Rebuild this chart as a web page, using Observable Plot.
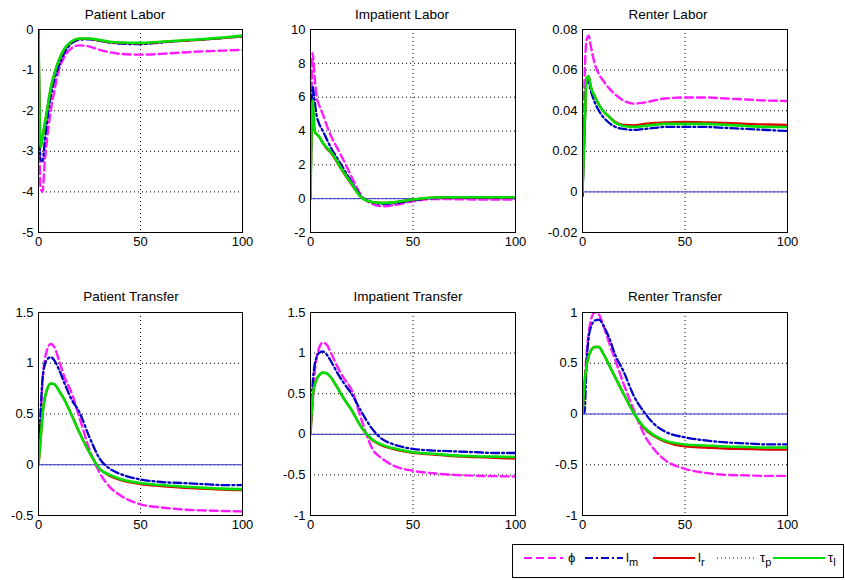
<!DOCTYPE html>
<html><head><meta charset="utf-8">
<script src="https://cdn.jsdelivr.net/npm/d3@7"></script>
<script src="https://cdn.jsdelivr.net/npm/@observablehq/plot@0.6"></script>
<style>
body{margin:0;background:#fff;}
#fig{position:relative;width:845px;height:580px;font-family:"Liberation Sans",Arial,sans-serif;overflow:hidden;}
.panel{position:absolute;}
.ttl{position:absolute;font-size:13.5px;font-weight:400;white-space:nowrap;transform:translate(-50%,-50%);color:#000;}
#legend{position:absolute;}
</style></head><body><div id="fig"></div>
<script>
// ---------- data ----------
const periods = [0,1,2,3,4,6,8,10,13,16,20,25,30,35,40,50,60,70,80,90,100];
const xTicks = [0,50,100];
const seriesKeys = ["phi","lm","lr","taup","taul"];
const panelTitles = ["Patient Labor","Impatient Labor","Renter Labor","Patient Transfer","Impatient Transfer","Renter Transfer"];

// Patient Labor
const patientLaborTicks = [-5,-4,-3,-2,-1,0];
const patientLaborPhi  = [-0.7,-3.9,-4.0,-3.3,-2.8,-2.0,-1.45,-1.0,-0.65,-0.47,-0.39,-0.42,-0.5,-0.56,-0.6,-0.62,-0.6,-0.57,-0.54,-0.52,-0.5];
const patientLaborLm   = [0,-3.2,-3.25,-2.8,-2.35,-1.65,-1.2,-0.9,-0.55,-0.35,-0.25,-0.24,-0.28,-0.32,-0.35,-0.36,-0.32,-0.28,-0.25,-0.21,-0.17];
const patientLaborLr   = [0,-2.9,-2.65,-2.35,-2.05,-1.45,-1.05,-0.76,-0.46,-0.31,-0.23,-0.23,-0.27,-0.31,-0.33,-0.34,-0.31,-0.28,-0.25,-0.21,-0.16];
const patientLaborTaup = [0,-2.9,-2.65,-2.35,-2.05,-1.45,-1.05,-0.75,-0.45,-0.3,-0.22,-0.22,-0.26,-0.3,-0.32,-0.33,-0.3,-0.27,-0.24,-0.2,-0.15];
const patientLaborTaul = [0,-2.9,-2.65,-2.35,-2.05,-1.45,-1.05,-0.75,-0.45,-0.3,-0.22,-0.22,-0.26,-0.3,-0.32,-0.33,-0.3,-0.27,-0.24,-0.2,-0.15];

// Impatient Labor
const impatientLaborTicks = [-2,0,2,4,6,8,10];
const impatientLaborPhi  = [0,8.6,7.2,6.0,5.6,5.0,4.3,3.7,3.0,2.3,1.3,0.15,-0.3,-0.45,-0.4,-0.15,-0.03,-0.03,-0.05,-0.05,-0.05];
const impatientLaborLm   = [0,6.6,5.8,4.9,4.5,4.0,3.5,3.0,2.4,1.8,1.0,0.1,-0.2,-0.3,-0.28,-0.1,0.03,0.05,0.05,0.05,0.04];
const impatientLaborLr   = [0,5.7,4.0,3.8,3.7,3.3,2.95,2.7,2.15,1.55,0.85,0.05,-0.2,-0.25,-0.22,-0.05,0.06,0.08,0.08,0.08,0.08];
const impatientLaborTaup = [0,5.8,4.0,3.8,3.7,3.3,3.0,2.75,2.2,1.6,0.9,0.05,-0.2,-0.25,-0.22,-0.05,0.07,0.08,0.08,0.08,0.08];
const impatientLaborTaul = [0,5.8,4.0,3.8,3.7,3.3,3.0,2.75,2.2,1.6,0.9,0.05,-0.2,-0.25,-0.22,-0.05,0.07,0.08,0.08,0.08,0.08];

// Renter Labor
const renterLaborTicks = [-0.02,0,0.02,0.04,0.06,0.08];
const renterLaborPhi  = [-0.002,0.055,0.075,0.077,0.072,0.063,0.058,0.055,0.051,0.048,0.045,0.0435,0.044,0.045,0.046,0.0465,0.0465,0.046,0.0455,0.045,0.0448];
const renterLaborLm   = [-0.002,0.03,0.055,0.054,0.05,0.044,0.04,0.037,0.034,0.032,0.031,0.0305,0.031,0.0315,0.032,0.032,0.032,0.0315,0.031,0.0305,0.030];
const renterLaborLr   = [0,0.03,0.056,0.057,0.052,0.047,0.043,0.040,0.037,0.0345,0.033,0.0328,0.0335,0.034,0.0342,0.0345,0.0342,0.034,0.0335,0.0332,0.033];
const renterLaborTaup = [0,0.03,0.056,0.057,0.052,0.047,0.043,0.040,0.037,0.034,0.0325,0.032,0.0325,0.033,0.0335,0.0335,0.0335,0.033,0.0325,0.032,0.032];
const renterLaborTaul = [0,0.03,0.056,0.057,0.052,0.047,0.043,0.040,0.037,0.034,0.0325,0.032,0.0325,0.033,0.0335,0.0335,0.0335,0.033,0.0325,0.032,0.032];

// Patient Transfer
const patientTransferTicks = [-0.5,0,0.5,1,1.5];
const patientTransferPhi  = [0,0.45,0.83,1.02,1.12,1.19,1.15,1.03,0.85,0.72,0.47,0.15,-0.08,-0.22,-0.3,-0.39,-0.42,-0.44,-0.45,-0.455,-0.46];
const patientTransferLm   = [0,0.5,0.85,0.98,1.03,1.06,1.02,0.94,0.79,0.65,0.52,0.27,0.06,-0.04,-0.09,-0.145,-0.17,-0.18,-0.19,-0.2,-0.2];
const patientTransferLr   = [0,0.24,0.5,0.65,0.73,0.8,0.79,0.73,0.63,0.5,0.32,0.12,-0.04,-0.11,-0.15,-0.19,-0.21,-0.225,-0.235,-0.245,-0.25];
const patientTransferTaup = [0,0.24,0.5,0.65,0.73,0.8,0.79,0.73,0.63,0.5,0.32,0.12,-0.04,-0.1,-0.14,-0.18,-0.2,-0.215,-0.225,-0.235,-0.24];
const patientTransferTaul = [0,0.24,0.5,0.65,0.73,0.8,0.79,0.73,0.63,0.5,0.32,0.12,-0.04,-0.1,-0.14,-0.18,-0.2,-0.215,-0.225,-0.235,-0.24];

// Impatient Transfer
const impatientTransferTicks = [-1,-0.5,0,0.5,1,1.5];
const impatientTransferPhi  = [0,0.35,0.75,0.95,1.05,1.13,1.1,1.0,0.84,0.7,0.55,0.17,-0.17,-0.3,-0.38,-0.45,-0.48,-0.5,-0.51,-0.515,-0.52];
const impatientTransferLm   = [0,0.6,0.85,0.95,1.0,1.02,0.98,0.9,0.76,0.64,0.5,0.27,0.07,-0.06,-0.12,-0.18,-0.2,-0.21,-0.22,-0.23,-0.23];
const impatientTransferLr   = [0,0.45,0.6,0.68,0.72,0.76,0.75,0.7,0.58,0.45,0.3,0.08,-0.07,-0.14,-0.18,-0.23,-0.25,-0.27,-0.28,-0.29,-0.3];
const impatientTransferTaup = [0,0.45,0.6,0.68,0.72,0.76,0.75,0.7,0.58,0.45,0.3,0.08,-0.06,-0.13,-0.17,-0.22,-0.24,-0.26,-0.27,-0.275,-0.28];
const impatientTransferTaul = [0,0.45,0.6,0.68,0.72,0.76,0.75,0.7,0.58,0.45,0.3,0.08,-0.06,-0.13,-0.17,-0.22,-0.24,-0.26,-0.27,-0.275,-0.28];

// Renter Transfer
const renterTransferTicks = [-1,-0.5,0,0.5,1];
const renterTransferPhi  = [0,0.3,0.6,0.8,0.92,1.0,0.98,0.88,0.7,0.53,0.3,0.04,-0.2,-0.35,-0.45,-0.54,-0.58,-0.6,-0.605,-0.61,-0.61];
const renterTransferLm   = [0,0.02,0.5,0.75,0.85,0.92,0.93,0.88,0.75,0.58,0.42,0.18,0.02,-0.1,-0.17,-0.23,-0.26,-0.28,-0.29,-0.3,-0.3];
const renterTransferLr   = [0,0.3,0.48,0.57,0.62,0.66,0.66,0.6,0.48,0.36,0.2,0.01,-0.14,-0.22,-0.27,-0.32,-0.33,-0.34,-0.345,-0.35,-0.35];
const renterTransferTaup = [0,0.3,0.48,0.57,0.62,0.66,0.66,0.6,0.48,0.36,0.2,0.01,-0.13,-0.21,-0.26,-0.3,-0.31,-0.32,-0.325,-0.33,-0.33];
const renterTransferTaul = [0,0.3,0.48,0.57,0.62,0.66,0.66,0.6,0.48,0.36,0.2,0.01,-0.13,-0.21,-0.26,-0.3,-0.31,-0.32,-0.325,-0.33,-0.33];

// ---------- styles & layout ----------
const seriesStyle = {
  phi:  {stroke:"#ff1aff", strokeWidth:2.4, strokeDasharray:"8,4"},
  lm:   {stroke:"#0000c8", strokeWidth:2.3, strokeDasharray:"8,3,2,3"},
  lr:   {stroke:"#e00000", strokeWidth:2.3},
  taup: {stroke:"#000000", strokeWidth:1, strokeDasharray:"1,3"},
  taul: {stroke:"#00e000", strokeWidth:2.6}
};

const panels = [
  {ticks:patientLaborTicks, s:[patientLaborPhi,patientLaborLm,patientLaborLr,patientLaborTaup,patientLaborTaul]},
  {ticks:impatientLaborTicks, s:[impatientLaborPhi,impatientLaborLm,impatientLaborLr,impatientLaborTaup,impatientLaborTaul]},
  {ticks:renterLaborTicks, s:[renterLaborPhi,renterLaborLm,renterLaborLr,renterLaborTaup,renterLaborTaul]},
  {ticks:patientTransferTicks, s:[patientTransferPhi,patientTransferLm,patientTransferLr,patientTransferTaup,patientTransferTaul]},
  {ticks:impatientTransferTicks, s:[impatientTransferPhi,impatientTransferLm,impatientTransferLr,impatientTransferTaup,impatientTransferTaul]},
  {ticks:renterTransferTicks, s:[renterTransferPhi,renterTransferLm,renterTransferLr,renterTransferTaup,renterTransferTaul]}
];

// box geometry (pixels)
const layout = [
  {left:0,   top:0,   width:275, height:260, ml:38, mr:33, mt:29, mb:28, tx:125, ty:14},
  {left:270, top:0,   width:275, height:260, ml:40, mr:30, mt:29, mb:28, tx:402, ty:14},
  {left:535, top:0,   width:305, height:260, ml:47, mr:53, mt:29, mb:28, tx:668, ty:14},
  {left:0,   top:280, width:275, height:265, ml:38, mr:33, mt:32, mb:30, tx:131, ty:296},
  {left:270, top:280, width:275, height:265, ml:40, mr:30, mt:32, mb:30, tx:408, ty:296},
  {left:535, top:280, width:305, height:265, ml:47, mr:53, mt:32, mb:30, tx:675, ty:296}
];

const fig = document.getElementById("fig");
const fmt = d => String(d);

panels.forEach((p, idx) => {
  const L = layout[idx];
  const rows = periods.map((t, i) => {
    const r = {t};
    seriesKeys.forEach((k, j) => r[k] = p.s[j][i]);
    return r;
  });
  const lo = d3.min(p.ticks), hi = d3.max(p.ticks);
  const interior = p.ticks.filter(v => v !== lo && v !== hi);
  const dotted = {stroke:"#000", strokeWidth:1, strokeDasharray:"1,3", strokeOpacity:1};
  const chart = Plot.plot({
    width: L.width, height: L.height,
    marginLeft: L.ml, marginRight: L.mr, marginTop: L.mt, marginBottom: L.mb,
    x: {domain:[0,100]},
    y: {domain:[lo,hi]},
    style: {fontFamily:'"Liberation Sans",Arial,sans-serif', fontSize:"12.5px", color:"#000", background:"transparent", overflow:"visible"},
    marks: [
      Plot.ruleY(interior, dotted),
      Plot.ruleX([50], dotted),
      Plot.ruleY([0], {stroke:"#3333cc", strokeWidth:1}),
      ...seriesKeys.map(k => Plot.line(rows, {x:"t", y:k, curve:"monotone-x", clip:true, ...seriesStyle[k]})),
      Plot.frame({stroke:"#000", strokeWidth:1}),
      Plot.axisX({ticks:xTicks, tickSize:0, tickPadding:4, label:null, tickFormat:fmt, fontSize:13}),
      Plot.axisY({ticks:p.ticks, tickSize:0, tickPadding:5, label:null, tickFormat:fmt, fontSize:13})
    ]
  });
  chart.classList.add("panel");
  chart.style.left = L.left + "px";
  chart.style.top = L.top + "px";
  fig.appendChild(chart);

  const t = document.createElement("div");
  t.className = "ttl";
  t.textContent = panelTitles[idx];
  t.style.left = L.tx + "px";
  t.style.top = L.ty + "px";
  fig.appendChild(t);
});

// ---------- legend ----------
const legendLabels = [["ϕ",""],["l","m"],["l","r"],["τ","p"],["τ","l"]];
const legendLayout = [{x0:12,x1:51,tx:56},{x0:73,x1:111,tx:114},{x0:141,x1:183,tx:186},{x0:205,x1:245,tx:248},{x0:261,x1:313,tx:316}];
const lg = d3.create("svg").attr("id","legend").attr("width",333).attr("height",35)
  .style("left","512px").style("top","544px");
lg.append("rect").attr("x",0.5).attr("y",0.5).attr("width",331).attr("height",33)
  .attr("fill","#fff").attr("stroke","#000");
seriesKeys.forEach((k, i) => {
  const st = seriesStyle[k], g = legendLayout[i];
  lg.append("line").attr("x1",g.x0).attr("x2",g.x1).attr("y1",14).attr("y2",14)
    .attr("stroke",st.stroke).attr("stroke-width",k==="taup"?1:2)
    .attr("stroke-dasharray",st.strokeDasharray||null);
  const tx = lg.append("text").attr("x",g.tx).attr("y",18)
    .attr("font-family",'"Liberation Sans",Arial,sans-serif').attr("font-size",13);
  tx.append("tspan").text(legendLabels[i][0]);
  if (legendLabels[i][1]) tx.append("tspan").attr("dy",4).attr("font-size",11).text(legendLabels[i][1]);
});
fig.appendChild(lg.node());
</script></body></html>
